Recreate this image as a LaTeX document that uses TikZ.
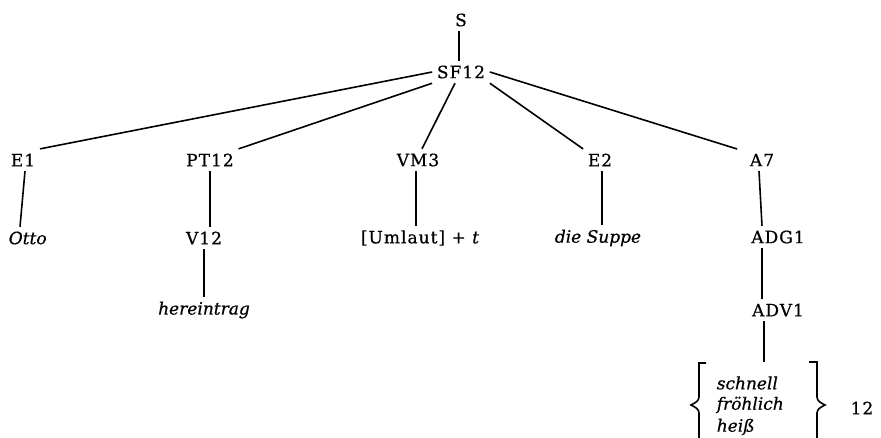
\documentclass[tikz,border=0pt]{standalone}
\usepackage{fontspec}
\setmainfont{DejaVu Serif}[LetterSpace=6, FakeBold=0.6, ItalicFeatures={LetterSpace=0}]
\begin{document}
\begin{tikzpicture}[x=1pt,y=-1pt,
  lab/.style={font=\fontsize{17}{20}\selectfont, inner sep=4pt},
  word/.style={font=\fontsize{17}{20}\selectfont\itshape, inner sep=4pt},
  br/.style={line width=1.6pt},
  every path/.style={line width=1.6pt}]
\useasboundingbox (0,0) rectangle (881,438);
\fill[white] (0,0) rectangle (881,438);
% top
\node[lab] (S) at (461,20) {S};
\node[lab] (SF) at (461,72) {SF12};
% second level
\node[lab] (E1) at (23,160) {E1};
\node[lab] (PT) at (210,160) {PT12};
\node[lab] (VM) at (418,160) {VM3};
\node[lab] (E2) at (600,160) {E2};
\node[lab] (A7) at (762,160) {A7};
% third level
\node[word, anchor=west] (Otto) at (4,238) {Otto};
\node[lab] (V12) at (204,238) {V12};
\node[lab] (Uml) at (420,238) {[Umlaut] + \textit{t}};
\node[word] (Sup) at (598,238) {die Suppe};
\node[lab] (ADG) at (778,237) {ADG1};
% fourth level
\node[word] (her) at (204,310) {hereintrag};
\node[lab] (ADV) at (778,310) {ADV1};
% bracket list
\node[word, anchor=west, inner sep=0pt] (w1) at (716,383) {schnell};
\node[word, anchor=west, inner sep=0pt] (w2) at (716,405) {fröhlich};
\node[word, anchor=west, inner sep=0pt] (w3) at (716,427) {heiß};
\node[lab] (n12) at (862,408) {12};
\coordinate (brtop) at (764,362);
% connectors
\draw (S.south) ++(-2,0) coordinate (s0) -- (s0 |- SF.north);
\draw (SF.west) -- (E1.north east);
\draw (SF.south west) -- (PT.north east);
\draw ([xshift=-6pt]SF.south) -- ([xshift=4pt]VM.north);
\draw (SF.south east) -- (E2.north west);
\draw (SF.east) -- ([xshift=-8pt]A7.north west);
\draw ([xshift=2pt]E1.south) -- ([xshift=-3pt]Otto.north -| E1.south);
\draw (PT.south) -- (PT.south |- V12.north);
\draw ([xshift=-2pt]VM.south) -- ([xshift=-4pt]Uml.north);
\draw ([xshift=2pt]E2.south) -- ([xshift=2pt]E2.south |- Sup.north);
\draw ([xshift=-3pt]A7.south) -- ([xshift=-16pt]ADG.north);
\draw ([xshift=-16pt]ADG.south) -- ([xshift=-16pt]ADV.north);
\draw ([xshift=-14pt]ADV.south) -- (brtop);
\draw (V12.south) -- (V12.south |- her.north);
% braces
\draw[br] (706,363) -- (699,363) -- (699,397) .. controls (699,401) and (695,403) .. (691,405)
  .. controls (695,407) and (699,409) .. (699,413) -- (699,438);
\draw[br] (809,362) -- (817,362) -- (817,397) .. controls (817,401) and (821,403) .. (825,405)
  .. controls (821,407) and (817,409) .. (817,413) -- (817,438);
\end{tikzpicture}
\end{document}
